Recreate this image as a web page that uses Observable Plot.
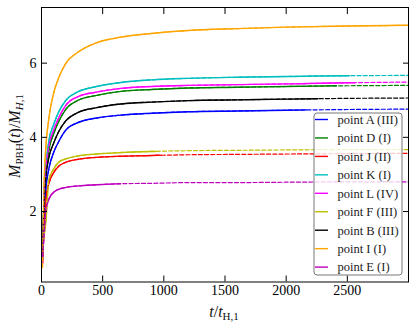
<!DOCTYPE html>
<html><head><meta charset="utf-8">
<script src="https://cdn.jsdelivr.net/npm/d3@7"></script>
<script src="https://cdn.jsdelivr.net/npm/@observablehq/plot@0.6"></script>
<style>body{margin:0;background:#fff;} svg{display:block;}</style>
</head><body><div id="chart"></div>
<script>
// common time grid (t / t_H,1)
const tGrid = [8, 20, 35, 60, 100, 140, 200, 300, 450, 650, 900, 1200, 1600, 2000, 2500, 3000];

const seriesNames  = ["point A (III)", "point D (I)", "point J (II)", "point K (I)", "point L (IV)", "point F (III)", "point B (III)", "point I (I)", "point E (I)"];
const seriesColors = ["#0000ff", "#008000", "#ff0000", "#00bfbf", "#ff00ff", "#bfbf00", "#000000", "#ffa500", "#bf00bf"];

// M_PBH / M_H,1 on tGrid
const mPointA = [0.7, 1.9, 2.6, 3.15, 3.6, 3.88, 4.2, 4.4, 4.52, 4.6, 4.65, 4.69, 4.71, 4.73, 4.75, 4.76];
const mPointD = [0.8, 2.2, 3.0, 3.65, 4.1, 4.42, 4.76, 5.0, 5.13, 5.24, 5.29, 5.33, 5.35, 5.37, 5.39, 5.40];
const mPointJ = [0.6, 1.6, 2.3, 2.75, 3.05, 3.22, 3.33, 3.41, 3.46, 3.49, 3.51, 3.53, 3.54, 3.55, 3.56, 3.57];
const mPointK = [0.7, 2.4, 3.2, 3.9, 4.35, 4.68, 5.0, 5.23, 5.37, 5.48, 5.55, 5.59, 5.62, 5.64, 5.66, 5.67];
const mPointL = [0.6, 2.3, 3.1, 3.75, 4.2, 4.52, 4.87, 5.1, 5.22, 5.32, 5.37, 5.40, 5.42, 5.44, 5.47, 5.49];
const mPointF = [0.9, 1.3, 1.7, 2.85, 3.15, 3.33, 3.42, 3.5, 3.55, 3.59, 3.62, 3.64, 3.65, 3.66, 3.67, 3.67];
const mPointB = [0.8, 2.1, 2.9, 3.45, 3.85, 4.15, 4.45, 4.67, 4.8, 4.9, 4.95, 4.99, 5.01, 5.03, 5.05, 5.06];
const mPointI = [0.5, 2.6, 3.7, 4.5, 5.2, 5.6, 6.0, 6.3, 6.55, 6.7, 6.8, 6.88, 6.93, 6.97, 7.0, 7.02];
const mPointE = [0.8, 1.3, 2.0, 2.33, 2.52, 2.6, 2.65, 2.69, 2.72, 2.75, 2.76, 2.78, 2.78, 2.79, 2.80, 2.80];
const seriesValues = [mPointA, mPointD, mPointJ, mPointK, mPointL, mPointF, mPointB, mPointI, mPointE];

// where the solid (simulated) part ends; dashed continues
const solidEndT = [2165, 2410, 975, 2516, 2560, 935, 2260, 3000, 645];
const solidEndM = [4.74, 5.39, 3.52, 5.66, 5.47, 3.62, 5.04, 7.02, 2.75];

const xTicks = [0, 500, 1000, 1500, 2000, 2500];
const yTicks = [2, 4, 6];

const allRows = [], solidRows = [];
seriesNames.forEach((s, i) => {
  tGrid.forEach((t, j) => {
    const r = {series: s, t, m: seriesValues[i][j]};
    allRows.push(r);
    if (t < solidEndT[i]) solidRows.push(r);
  });
  solidRows.push({series: s, t: solidEndT[i], m: solidEndM[i]});
});

const chart = Plot.plot({
  width: 416, height: 330,
  marginLeft: 41, marginRight: 8, marginTop: 7, marginBottom: 48.5,
  x: {domain: [0, 3000], label: null},
  y: {domain: [0.1, 7.5], label: null},
  color: {domain: seriesNames, range: seriesColors},
  style: {fontFamily: "Liberation Serif", fontSize: "14px", color: "#000", background: "#fff", overflow: "visible"},
  marks: [
    Plot.line(solidRows, {x: "t", y: "m", z: "series", stroke: "series", strokeWidth: 1.4, curve: "monotone-x"}),
    Plot.line(allRows, {x: "t", y: "m", z: "series", stroke: "series", strokeWidth: 1.2, strokeDasharray: "4,2.2", curve: "monotone-x"}),
    Plot.axisX({anchor: "bottom", ticks: xTicks, tickSize: -6, tickPadding: 9, tickFormat: d3.format("d"), label: null}),
    Plot.axisX({anchor: "top", ticks: xTicks, tickSize: -6, tickFormat: () => "", label: null}),
    Plot.axisY({anchor: "left", ticks: yTicks, tickSize: -6, tickPadding: 11, tickFormat: d3.format("d"), label: null}),
    Plot.axisY({anchor: "right", ticks: yTicks, tickSize: -6, tickFormat: () => "", label: null}),
    Plot.frame({stroke: "#000", strokeWidth: 1})
  ]
});
document.getElementById("chart").appendChild(chart);

const svg = d3.select(chart);
// legend
const lg = svg.append("g").attr("font-family", "Liberation Serif").attr("font-size", 12.5).attr("text-anchor", "start");
lg.append("rect").attr("x", 314).attr("y", 113).attr("width", 88).attr("height", 162)
  .attr("rx", 3).attr("fill", "#fff").attr("fill-opacity", 0.8).attr("stroke", "#777").attr("stroke-width", 1);
seriesNames.forEach((s, i) => {
  const y = 119.5 + i * 18.45;
  lg.append("line").attr("x1", 315).attr("x2", 328).attr("y1", y).attr("y2", y)
    .attr("stroke", seriesColors[i]).attr("stroke-width", 1.4);
  lg.append("text").attr("x", 337.5).attr("y", y).attr("dy", "0.35em").attr("fill", "#222").text(s);
});

// y label
const yl = svg.append("text").attr("transform", "translate(20,136) rotate(-90)")
  .attr("text-anchor", "middle").attr("font-family", "Liberation Serif").attr("font-size", 16).attr("fill", "#111");
yl.append("tspan").attr("font-style", "italic").text("M");
yl.append("tspan").attr("font-size", 11).attr("dy", 3).text("PBH");
yl.append("tspan").attr("dy", -3).text("(");
yl.append("tspan").attr("font-style", "italic").text("t");
yl.append("tspan").text(")/");
yl.append("tspan").attr("font-style", "italic").text("M");
yl.append("tspan").attr("font-size", 11).attr("dy", 3).attr("font-style", "italic").text("H");
yl.append("tspan").attr("font-size", 11).text(",1");

// x label
const xl = svg.append("text").attr("x", 224).attr("y", 317)
  .attr("text-anchor", "middle").attr("font-family", "Liberation Serif").attr("font-size", 16).attr("fill", "#111");
xl.append("tspan").attr("font-style", "italic").text("t");
xl.append("tspan").text("/");
xl.append("tspan").attr("font-style", "italic").text("t");
xl.append("tspan").attr("font-size", 11).attr("dy", 3).text("H,1");
</script>
</body></html>
